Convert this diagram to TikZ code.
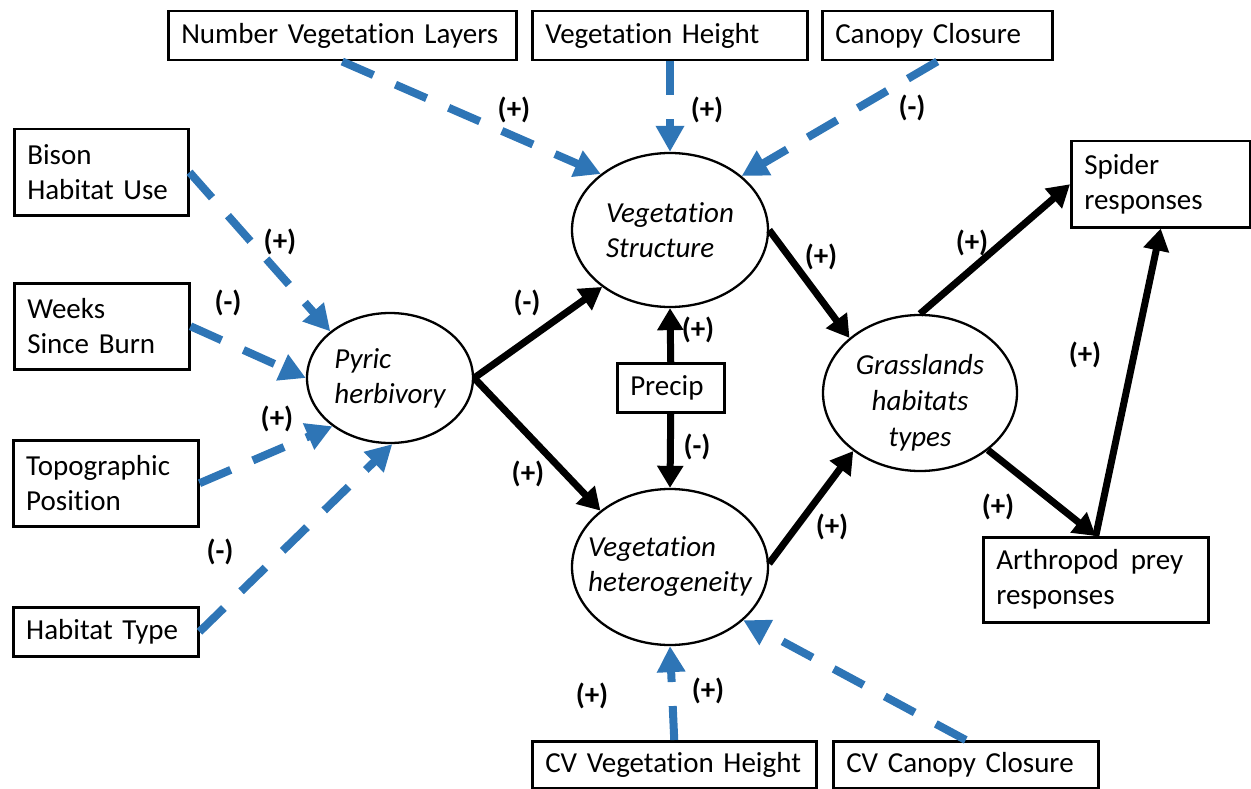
\documentclass[tikz,border=0pt]{standalone}
\usepackage{fontspec}
\setmainfont{Carlito}[Ligatures=NoCommon, WordSpace=0.8]
\usetikzlibrary{arrows.meta,shapes.geometric}
\definecolor{mblue}{RGB}{46,117,182}
\tikzset{
  box/.style={draw, line width=2.5pt, inner xsep=13pt, inner ysep=0pt, align=left,
    anchor=north west, font=\fontsize{29}{35}\selectfont},
  ell/.style={draw, ellipse, line width=2.3pt, inner sep=0pt},
  elltext/.style={inner sep=0pt, font=\itshape\fontsize{29}{35}\selectfont},
  lab/.style={inner sep=0pt, font=\bfseries\fontsize{29}{35}\selectfont},
  blk/.style={line width=7pt, -{Triangle[length=22pt,width=25pt]}},
  blu/.style={mblue, line width=8pt, dash pattern=on 34pt off 24pt,
    -{Triangle[length=26pt,width=27pt]}},
}
\begin{document}
\begin{tikzpicture}[x=1pt,y=-1pt]
\useasboundingbox (0,0) rectangle (1251,789);
% boxes
\node[box, text width=322pt, minimum height=49pt] (nvl) at (167,10) {\mbox{Number Vegetation Layers}};
\node[box, text width=249pt, minimum height=49pt] (vegh) at (531,10) {\mbox{Vegetation Height}};
\node[box, text width=204pt, minimum height=49pt] (canopy) at (821,10) {\mbox{Canopy Closure}};
\node[box, text width=148pt, minimum height=86pt] (bison) at (13,128) {\mbox{Bison}\\\mbox{Habitat Use}};
\node[box, text width=149pt, minimum height=86pt] (weeks) at (13,282) {\mbox{Weeks}\\\mbox{Since Burn}};
\node[box, text width=159pt, minimum height=86pt] (topo) at (12,439) {\mbox{Topographic}\\\mbox{Position}};
\node[box, text width=159pt, minimum height=49pt] (habitat) at (12,606) {\mbox{Habitat Type}};
\node[box, text width=81pt, minimum height=49pt] (precip) at (616,362) {\mbox{Precip}};
\node[box, text width=153pt, minimum height=86pt] (spider) at (1070,140) {\mbox{Spider}\\\mbox{responses}};
\node[box, text width=199pt, minimum height=85pt] (arth) at (982,536) {\mbox{Arthropod\hspace{12pt}prey}\\\mbox{responses}};
\node[box, text width=258pt, minimum height=47pt] (cvvh) at (531,740) {\mbox{CV Vegetation Height}};
\node[box, text width=239pt, minimum height=47pt] (cvcc) at (832,740) {\mbox{CV Canopy Closure}};
% ellipses
\node[ell, minimum width=166pt, minimum height=130pt] (pyric) at (390,378) {};
\node[elltext, align=left] (pyrict) at (pyric.center) {Pyric\\herbivory};
\node[ell, minimum width=196pt, minimum height=154pt] (vs) at (670,230) {};
\node[elltext, align=left] (vst) at (vs.center) {Vegetation\\Structure};
\node[ell, minimum width=196pt, minimum height=156pt] (vh) at (670,567) {};
\node[elltext, align=left] (vht) at (vh.center) {Vegetation\\heterogeneity};
\node[ell, minimum width=194pt, minimum height=156pt] (gh) at (920,393) {};
\node[elltext, align=center, font=\itshape\fontsize{29}{36}\selectfont] (ght) at ([yshift=-10pt]gh.center) {Grasslands\\habitats\\types};
% blue dashed connectors
\draw[blu] (nvl.south) -- (vs.141);
\draw[blu] (vs.north |- vegh.south) -- (vs.north);
\draw[blu] (canopy.south) -- (vs.37);
\draw[blu] (bison.east) -- (pyric.142);
\draw[blu] (weeks.east) -- (pyric.180);
\draw[blu] (topo.east) -- (pyric.220);
\draw[blu] (habitat.east) -- (pyric.272);
\draw[blu] (cvvh.north) -- (vh.south);
\draw[blu] (cvcc.north) -- (vh.324);
% black connectors
\draw[blk] (pyric.east) -- (vs.220);
\draw[blk] (pyric.east) -- (vh.141);
\draw[blk] (precip.north) -- (vs.south);
\draw[blk] (precip.south) -- (vh.north);
\draw[blk] (vs.east) -- (gh.142);
\draw[blk] (vh.2) -- (gh.221);
\draw[blk] (gh.north) -- (spider.west);
\draw[blk] (gh.320) -- (arth.north);
\draw[blk] (arth.north) -- (spider.south);
% labels
\node[lab] (l1) at (514,110) {(+)};
\node[lab] (l2) at (707,110) {(+)};
\node[lab] (l3) at (912,108) {(-)};
\node[lab] (l4) at (280,242) {(+)};
\node[lab] (l5) at (228,303) {(-)};
\node[lab] (l6) at (277,419) {(+)};
\node[lab] (l7) at (220,552) {(-)};
\node[lab] (l8) at (527,303) {(-)};
\node[lab] (l9) at (528,474) {(+)};
\node[lab] (l10) at (698,330) {(+)};
\node[lab] (l11) at (697,447) {(-)};
\node[lab] (l12) at (821,257) {(+)};
\node[lab] (l13) at (832,527) {(+)};
\node[lab] (l14) at (972,243) {(+)};
\node[lab] (l15) at (1085,355) {(+)};
\node[lab] (l16) at (998,507) {(+)};
\node[lab] (l17) at (592,696) {(+)};
\node[lab] (l18) at (708,691) {(+)};
\end{tikzpicture}
\end{document}
